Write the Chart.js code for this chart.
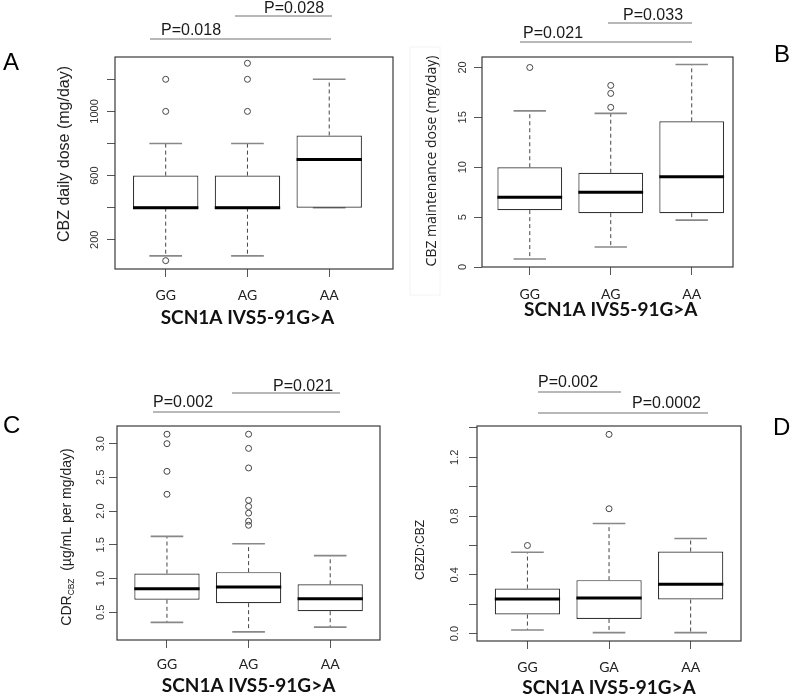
<!DOCTYPE html>
<html lang="en">
<head>
<meta charset="UTF-8">
<title>SCN1A IVS5-91G>A boxplots</title>
<script src="https://cdn.jsdelivr.net/npm/chart.js"></script>
<style>
  body { margin: 0; background: #fff; }
  #wrap { position: relative; width: 795px; height: 696px; }
  #wrap canvas { position: absolute; left: 0; top: 0; }
</style>
</head>
<body>
<div id="wrap">
  <canvas id="chartA" width="795" height="696"></canvas>
  <canvas id="chartB" width="795" height="696"></canvas>
  <canvas id="chartC" width="795" height="696"></canvas>
  <canvas id="chartD" width="795" height="696"></canvas>
</div>
<script>
// A: CBZ daily dose
const catsA = ['GG', 'AG', 'AA'];
const lowA = [100, 100, 400];
const q1A = [400, 400, 400];
const medA = [400, 400, 700];
const q3A = [600, 600, 850];
const highA = [800, 800, 1200];
const outA = [[70, 1000, 1200], [1000, 1200, 1300], []];
const ticksA = [200, 400, 600, 800, 1000, 1200];
const tickLabelsA = ['200', '', '600', '', '1000', ''];

// B: CBZ maintenance dose
const catsB = ['GG', 'AG', 'AA'];
const lowB = [0.8, 2.0, 4.7];
const q1B = [5.7, 5.4, 5.4];
const medB = [7.0, 7.5, 9.05];
const q3B = [10.0, 9.45, 14.6];
const highB = [15.65, 15.4, 20.3];
const outB = [[20.0], [16.0, 17.4, 18.2], []];
const ticksB = [0, 5, 10, 15, 20];
const tickLabelsB = ['0', '5', '10', '15', '20'];

// C: CDR CBZ
const catsC = ['GG', 'AG', 'AA'];
const lowC = [0.35, 0.21, 0.28];
const q1C = [0.685, 0.635, 0.515];
const medC = [0.85, 0.875, 0.70];
const q3C = [1.075, 1.095, 0.915];
const highC = [1.625, 1.515, 1.34];
const outC = [[2.25, 2.59, 3.0, 3.14], [1.79, 1.85, 1.97, 2.07, 2.16, 2.64, 2.93, 3.14], []];
const ticksC = [0.5, 1.0, 1.5, 2.0, 2.5, 3.0];
const tickLabelsC = ['0.5', '1.0', '1.5', '2.0', '2.5', '3.0'];

// D: CBZD:CBZ
const catsD = ['GG', 'GA', 'AA'];
const lowD = [0.025, 0.007, 0.007];
const q1D = [0.13, 0.10, 0.232];
const medD = [0.235, 0.243, 0.336];
const q3D = [0.307, 0.364, 0.559];
const highD = [0.554, 0.75, 0.647];
const outD = [[0.60], [0.85, 1.356], []];
const ticksD = [0, 0.2, 0.4, 0.6, 0.8, 1.0, 1.2, 1.4];
const tickLabelsD = ['0.0', '', '0.4', '', '0.8', '', '1.2', ''];

const xTitle = 'SCN1A IVS5-91G>A';
const BOX_WEX = 0.8;
const Y_W = 30, X_H = 40;

Chart.defaults.font.family = "'Liberation Sans', Arial, sans-serif";

// half the box width in pixels, taken from the x scale
function halfBoxPx(ctx) {
    const s = ctx.chart.scales.x;
    return Math.abs(s.getPixelForValue(1 + BOX_WEX / 2) - s.getPixelForValue(1));
}

function boxDatasets(cats, low, q1, med, q3, high, outliers) {
    const xs = cats.map((c, i) => i + 1);
    const whiskers = [];
    const staples = [];
    const outPts = [];
    xs.forEach((x, i) => {
        whiskers.push({x: x, y: q3[i]}, {x: x, y: high[i]}, {x: x, y: null},
                      {x: x, y: q1[i]}, {x: x, y: low[i]}, {x: x, y: null});
        staples.push({x: x, y: low[i]}, {x: x, y: high[i]});
        outliers[i].forEach(v => outPts.push({x: x, y: v}));
    });
    return [
        { type: 'scatter', data: xs.map((x, i) => ({x: x, y: med[i]})),
          pointStyle: 'line', pointRadius: halfBoxPx, borderColor: '#000', pointBorderWidth: 3 },
        { type: 'bar', data: xs.map((x, i) => ({x: x, y: [q1[i], q3[i]]})),
          backgroundColor: '#fff', borderColor: '#333', borderWidth: 1.2, borderSkipped: false,
          barPercentage: BOX_WEX, categoryPercentage: 1 },
        { type: 'scatter', data: outPts, pointStyle: 'circle', pointRadius: 3,
          backgroundColor: 'rgba(0,0,0,0)', borderColor: '#444', pointBorderWidth: 1 },
        { type: 'scatter', data: staples, pointStyle: 'line',
          pointRadius: ctx => halfBoxPx(ctx) / 2, borderColor: '#888', pointBorderWidth: 1.6 },
        { type: 'line', data: whiskers, borderColor: '#444', borderWidth: 1, borderDash: [4, 3],
          pointRadius: 0, spanGaps: false, fill: false }
    ];
}

// annotations drawn around each panel
const decos = {
    chartA: {
        letter: {t: 'A', x: 3, y: 70}, xTitleY: 318,
        yTitle: {x: 65, y: 154, font: "16px 'Liberation Sans'", parts: [{t: 'CBZ daily dose (mg/day)'}]},
        pvals: [{t: 'P=0.018', x: 161, y: 35, x1: 150, x2: 331, ly: 39},
                {t: 'P=0.028', x: 264, y: 13, x1: 235, x2: 332, ly: 16}]
    },
    chartB: {
        letter: {t: 'B', x: 774, y: 62}, xTitleY: 310,
        yTitle: {x: 432, y: 161, font: "14px 'Open Sans'", parts: [{t: 'CBZ maintenance dose (mg/day)'}]},
        frame: {x: 410, y: 47, w: 30, h: 248},
        pvals: [{t: 'P=0.021', x: 523, y: 38, x1: 520, x2: 692, ly: 42},
                {t: 'P=0.033', x: 623, y: 20, x1: 608, x2: 692, ly: 23}]
    },
    chartC: {
        letter: {t: 'C', x: 3, y: 433}, xTitleY: 686,
        yTitle: {x: 67, y: 537, font: "14px 'Liberation Sans'",
                 parts: [{t: 'CDR'}, {t: 'CBZ', sub: true}, {t: '  (\u00b5g/mL per mg/day)'}]},
        pvals: [{t: 'P=0.002', x: 153, y: 407, x1: 153, x2: 340, ly: 412},
                {t: 'P=0.021', x: 273, y: 391, x1: 232, x2: 340, ly: 393}]
    },
    chartD: {
        letter: {t: 'D', x: 773, y: 435}, xTitleY: 688,
        yTitle: {x: 421, y: 550, font: "12px 'Liberation Sans'", parts: [{t: 'CBZD:CBZ'}]},
        pvals: [{t: 'P=0.002', x: 538, y: 387, x1: 538, x2: 621, ly: 392},
                {t: 'P=0.0002', x: 632, y: 408, x1: 538, x2: 708, ly: 413}]
    }
};

const panelDeco = {
    id: 'panelDeco',
    afterDraw(chart) {
        const d = decos[chart.canvas.id];
        const ctx = chart.ctx;
        const a = chart.chartArea;
        ctx.save();
        // plot frame
        ctx.strokeStyle = '#3a3a3a';
        ctx.lineWidth = 1.2;
        ctx.strokeRect(a.left, a.top, a.right - a.left, a.bottom - a.top);

        // x title, centred on the middle group
        ctx.fillStyle = '#111';
        ctx.font = "bold 19px Lato, 'Open Sans', sans-serif";
        ctx.textAlign = 'center';
        ctx.textBaseline = 'middle';
        ctx.fillText(xTitle, chart.scales.x.getPixelForValue(2), d.xTitleY);

        // y title, rotated, optional subscript
        const yt = d.yTitle;
        ctx.save();
        ctx.translate(yt.x, yt.y);
        ctx.rotate(-Math.PI / 2);
        ctx.textAlign = 'left';
        ctx.textBaseline = 'middle';
        const size = parseFloat(yt.font);
        const subFont = yt.font.replace(/^[\d.]+px/, (size * 0.6) + 'px');
        let total = 0;
        yt.parts.forEach(p => { ctx.font = p.sub ? subFont : yt.font; total += ctx.measureText(p.t).width; });
        let cx = -total / 2;
        ctx.fillStyle = '#222';
        yt.parts.forEach(p => {
            ctx.font = p.sub ? subFont : yt.font;
            ctx.fillText(p.t, cx, p.sub ? size * 0.3 : 0);
            cx += ctx.measureText(p.t).width;
        });
        ctx.restore();

        if (d.frame) {
            ctx.strokeStyle = '#f4f4f4';
            ctx.lineWidth = 1;
            ctx.strokeRect(d.frame.x, d.frame.y, d.frame.w, d.frame.h);
        }

        // p-value brackets
        ctx.textAlign = 'left';
        ctx.textBaseline = 'alphabetic';
        d.pvals.forEach(p => {
            ctx.strokeStyle = '#a0a0a0';
            ctx.lineWidth = 1.5;
            ctx.beginPath();
            ctx.moveTo(p.x1, p.ly);
            ctx.lineTo(p.x2, p.ly);
            ctx.stroke();
            ctx.fillStyle = '#1a1a1a';
            ctx.font = "16px 'Liberation Sans'";
            ctx.fillText(p.t, p.x, p.y);
        });

        // panel letter
        ctx.fillStyle = '#000';
        ctx.font = "24px 'Liberation Sans'";
        ctx.fillText(d.letter.t, d.letter.x, d.letter.y);
        ctx.restore();
    }
};

function makePanel(id, cats, datasets, box, xRange, yRange, yTicks, yLabels, yPad, xPad) {
    const xs = cats.map((c, i) => i + 1);
    const grid = { drawOnChartArea: false, drawTicks: true, tickLength: 8, color: '#555', offset: false };
    return new Chart(document.getElementById(id), {
        type: 'bar',
        data: { datasets: datasets },
        options: {
            responsive: false,
            animation: false,
            events: [],
            devicePixelRatio: 1,
            layout: { padding: { left: box.left - Y_W, top: box.top, right: 795 - box.right, bottom: 696 - box.bottom - X_H } },
            plugins: { legend: { display: false }, tooltip: { enabled: false } },
            scales: {
                x: {
                    type: 'linear', min: xRange[0], max: xRange[1], offset: false, bounds: 'data',
                    afterBuildTicks: s => { s.ticks = xs.map(v => ({value: v})); },
                    afterFit: s => { s.height = X_H; },
                    ticks: { callback: (v, i) => cats[i], font: { family: "Lato, 'Open Sans', sans-serif", size: 14 }, color: '#222',
                             padding: xPad, autoSkip: false, maxRotation: 0, minRotation: 0 },
                    grid: grid,
                    border: { display: false }
                },
                y: {
                    type: 'linear', min: yRange[0], max: yRange[1], bounds: 'data',
                    afterBuildTicks: s => { s.ticks = yTicks.map(v => ({value: v})); },
                    afterFit: s => { s.width = Y_W; },
                    ticks: { callback: (v, i) => yLabels[i], font: { size: 11 }, color: '#333',
                             padding: yPad, crossAlign: 'center', minRotation: 90, maxRotation: 90, autoSkip: false },
                    grid: grid,
                    border: { display: false }
                }
            }
        },
        plugins: [panelDeco]
    });
}

makePanel('chartA', catsA, boxDatasets(catsA, lowA, q1A, medA, q3A, highA, outA),
    {left: 115, right: 393, top: 57, bottom: 269}, [0.38, 3.78], [18, 1339], ticksA, tickLabelsA, 0, 10.5);
makePanel('chartB', catsB, boxDatasets(catsB, lowB, q1B, medB, q3B, highB, outB),
    {left: 482, right: 733, top: 57, bottom: 267}, [0.41, 3.51], [0, 21.05], ticksB, tickLabelsB, 5, 11.5);
makePanel('chartC', catsC, boxDatasets(catsC, lowC, q1C, medC, q3C, highC, outC),
    {left: 117, right: 380, top: 426, bottom: 640}, [0.388, 3.61], [0.089, 3.262], ticksC, tickLabelsC, 0, 8);
makePanel('chartD', catsD, boxDatasets(catsD, lowD, q1D, medD, q3D, highD, outD),
    {left: 477, right: 741, top: 426, bottom: 641}, [0.382, 3.617], [-0.05, 1.413], ticksD, tickLabelsD, 6, 10);
</script>
</body>
</html>
